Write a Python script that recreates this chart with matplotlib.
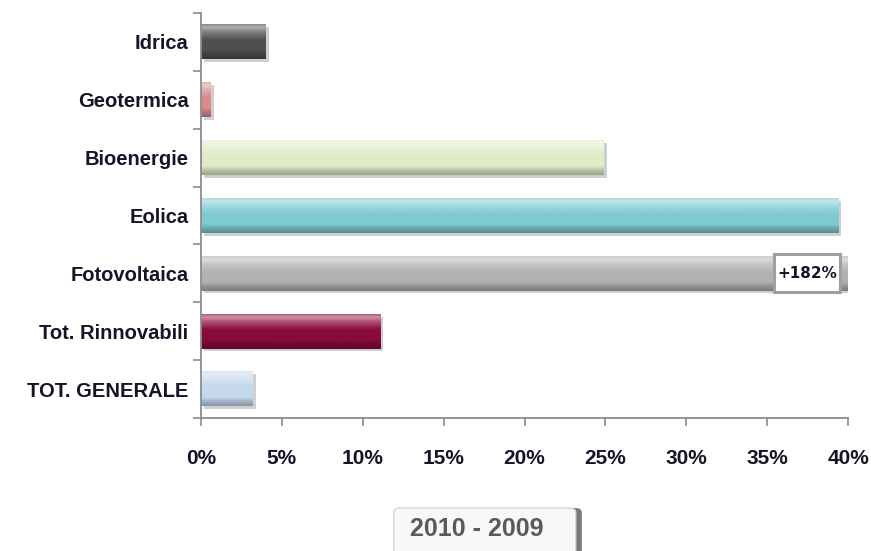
import numpy as np
import matplotlib.pyplot as plt
import matplotlib.patheffects as pe
from matplotlib.colors import to_rgb
from matplotlib.patches import FancyBboxPatch, Rectangle

plt.rcParams["font.family"] = ["Liberation Sans", "DejaVu Sans"]

categories = ["Idrica", "Geotermica", "Bioenergie", "Eolica",
              "Fotovoltaica", "Tot. Rinnovabili", "TOT. GENERALE"]
growth = [4.0, 0.6, 24.9, 39.4, 182.0, 11.1, 3.2]
colors = ["#4f4f4f", "#d98a8c", "#e0ecc6", "#7ecbd2",
          "#b2b2b2", "#8a0a3a", "#c4d8ee"]
x_ticks = [0, 5, 10, 15, 20, 25, 30, 35, 40]
period = "2010 - 2009"


def bevel(color, n=40):
    # vertical shading: bright rim on top, base colour, darker bottom edge
    base = np.array(to_rgb(color))
    t = np.linspace(0, 1, n)
    light = np.interp(t, [0, 0.08, 0.2, 0.45, 0.75, 0.88, 1.0],
                      [0.35, 0.55, 0.3, 0.0, 0.0, -0.18, -0.3])
    rows = []
    for k in light:
        if k >= 0:
            rows.append(base + (1 - base) * k)
        else:
            rows.append(base * (1 + k))
    return np.array(rows)[:, None, :]


fig = plt.figure(figsize=(8.71, 5.51), dpi=100)
ax = fig.add_axes([0.2308, 0.2414, 0.7428, 0.735])

y = np.arange(len(categories))
bars = ax.barh(y, growth, height=0.6, color=colors, linewidth=0, zorder=2)
for bar, c in zip(bars, colors):
    bar.set_path_effects([pe.SimplePatchShadow(offset=(2, -2), shadow_rgbFace="#777777", alpha=0.35),
                          pe.Normal()])
    x0, y0 = bar.get_x(), bar.get_y()
    w, h = bar.get_width(), bar.get_height()
    # shaded image laid over the bar; the axes box clips it like the bar
    ax.imshow(bevel(c), extent=[x0, x0 + w, y0 + h, y0], aspect="auto",
              interpolation="bilinear", zorder=2.5)

ax.set_xlim(0, 40)
ax.set_ylim(len(categories) - 0.5, -0.5)
ax.set_xticks(x_ticks)
ax.set_xticklabels([f"{v}%" for v in x_ticks], fontsize=15, fontweight="bold", color="#15152a")
ax.set_yticks(y)
ax.set_yticklabels(categories, fontsize=14.5, fontweight="bold", color="#15152a")
ax.set_yticks(np.arange(len(categories) + 1) - 0.5, minor=True)

ax.tick_params(axis="x", direction="out", length=6, width=1.2, color="#8c8c8c", pad=16)
ax.tick_params(axis="y", which="major", direction="in", length=4, width=1.0, color="#8c8c8c", pad=9)
ax.tick_params(axis="y", which="minor", direction="out", length=6, width=1.2, color="#8c8c8c")

for side in ["top", "right"]:
    ax.spines[side].set_visible(False)
for side in ["left", "bottom"]:
    ax.spines[side].set_color("#8c8c8c")
    ax.spines[side].set_linewidth(1.3)
    ax.spines[side].set_zorder(3)

# value box for the bar that runs off the scale
ax.add_patch(Rectangle((37.47 - 2.05, 4 - 0.33), 4.1, 0.66, facecolor="white",
                       edgecolor="#a0a0a0", linewidth=2.2, zorder=4))
ax.text(37.47, 4, f"+{growth[4]:.0f}%", ha="center", va="center",
        fontsize=11, fontweight="bold", family="DejaVu Sans", color="#15152a", zorder=5)

# period box under the chart
shadow = FancyBboxPatch((0.456, -0.03), 0.212, 0.108, boxstyle="round,pad=0,rounding_size=0.008",
                        transform=fig.transFigure, facecolor="#7a7a7a", edgecolor="none")
box = FancyBboxPatch((0.452, -0.03), 0.209, 0.108, boxstyle="round,pad=0,rounding_size=0.008",
                     transform=fig.transFigure, facecolor="#f8f8f8", edgecolor="#d6d6d6", linewidth=1)
fig.patches.extend([shadow, box])
fig.text(0.547, 0.040, period, ha="center", va="center", fontsize=18,
         fontweight="bold", color="#5a5a5a")

fig.savefig("out.png", dpi=100)
